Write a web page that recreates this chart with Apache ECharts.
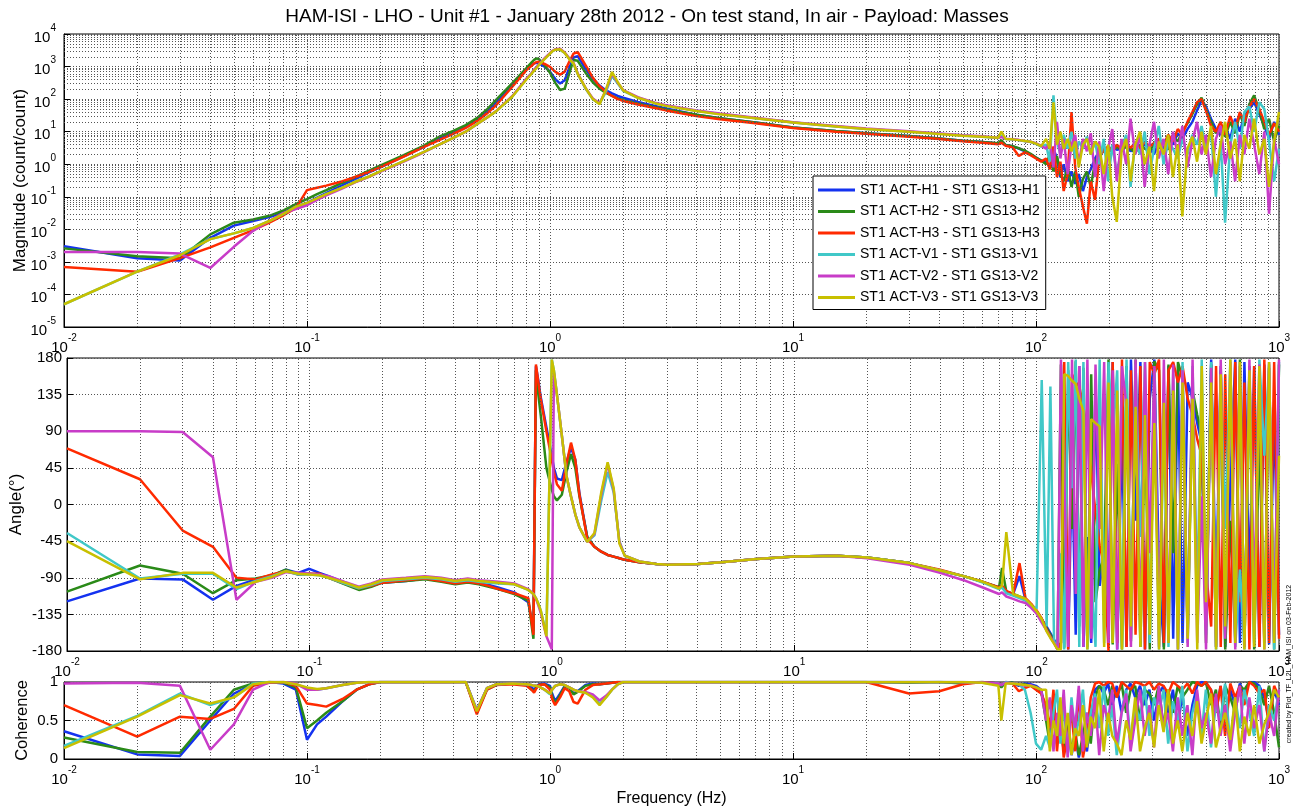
<!DOCTYPE html>
<html><head><meta charset="utf-8">
<script src="https://cdn.jsdelivr.net/npm/echarts@6/dist/echarts.min.js"></script>
<style>html,body{margin:0;padding:0;background:#fff}#c{width:1294px;height:812px}</style>
</head><body><div id="c"></div>
<script>
// ---------------- DATA ----------------
const freq = [
0.01,0.02,0.03,0.04,0.05,0.06,0.07,0.08,0.09,0.1,
0.11,0.12,0.14,0.16,0.18,0.2,0.25,0.3,0.35,0.4,
0.45,0.5,0.55,0.6,0.7,0.8,0.84,0.86,0.88,0.9,
0.95,1.0,1.02,1.05,1.1,1.15,1.2,1.25,1.3,1.4,
1.5,1.6,1.7,1.8,1.9,2.0,2.3,2.7,3,4,
5,7,10,15,20,30,40,50,60,70,
72,75,80,85,90,95,100,105,
110,114,118,122,126,130,135,140,145,150,
156,162,168,175,182,190,198,206,215,225,
235,245,256,268,280,293,306,320,335,350,
366,383,400,420,440,460,480,500,525,550,
575,600,630,660,690,720,755,790,830,870,
910,955,1000];

const seriesNames = ['ST1 ACT-H1 - ST1 GS13-H1','ST1 ACT-H2 - ST1 GS13-H2','ST1 ACT-H3 - ST1 GS13-H3',
                     'ST1 ACT-V1 - ST1 GS13-V1','ST1 ACT-V2 - ST1 GS13-V2','ST1 ACT-V3 - ST1 GS13-V3'];
const seriesColors = ['#1432f0','#2a8a18','#ff2a00','#40c8c8','#c83cc8','#c8c000'];

// Magnitude (count/count)
const magH1 = [
3.0e-3,1.3e-3,1.1e-3,5.5e-3,0.013,0.018,0.024,0.033,0.05,0.065,
0.095,0.13,0.23,0.37,0.56,0.8,1.75,3.3,6.2,9.5,
14.5,24,42,80,280,850,1100,1250,1300,1250,
1000,700,560,420,300,380,900,1900,2100,850,
420,260,185,150,125,110,82,62,52,33,
26,19,13.5,10.5,9,7.3,6.2,5.3,4.8,4.3,
5,3.9,3.6,3.0,2.5,2.0,1.6,1.3,
1.2,0.8,3,1.5,0.4,1.0,0.3,0.6,0.25,0.5,
0.15,0.4,0.7,1.5,2.5,3,2.2,3.5,2.8,3,
3.8,2.5,3.5,3,4,3.2,2,5,3,6,
4,9,6,12,20,45,90,60,25,12,
8,15,6,25,10,30,50,80,35,15,
6,20,8];
const magH2 = [
2.6e-3,1.5e-3,1.3e-3,7e-3,0.016,0.02,0.026,0.038,0.06,0.085,
0.12,0.16,0.27,0.42,0.63,0.9,1.9,3.6,7,10.5,
16,26,48,95,310,900,1350,1600,1780,1700,
1100,650,480,320,190,210,620,1600,1500,650,
330,210,155,125,105,92,72,56,48,33,
26,19,13.5,10.5,9,7.3,6.2,5.3,4.8,4.4,
5.5,3.9,3.6,3.1,2.6,2.1,1.6,1.3,
1.0,2,0.6,1.8,0.5,0.3,0.8,0.2,0.6,0.1,
0.35,0.6,0.2,1.2,2.0,2.5,3.2,2.4,3.5,2.6,
3.5,3,2.2,4,3,2.5,4,3.3,5,2.8,
7,5,10,18,35,70,110,50,20,9,
14,7,20,9,35,15,70,130,45,12,
25,5,15];
const magH3 = [
7e-4,5e-4,1.3e-3,2.8e-3,5.5e-3,9.5e-3,0.016,0.027,0.045,0.16,
0.19,0.22,0.3,0.42,0.58,0.8,1.7,3.3,5.5,8.5,
13,21,36,65,240,780,1050,1250,1380,1400,
1200,980,850,700,560,700,1400,2500,2800,1100,
460,250,165,125,100,88,68,53,45,30,
24,18,13,10,8.6,7,6,5.1,4.6,4.1,
4.6,3.7,3.3,1.8,2.3,1.9,1.5,1.2,
1.5,0.7,3.5,0.4,1.2,0.15,0.5,40,0.8,0.2,
0.05,0.015,0.3,0.08,1.5,2.8,3.5,2.5,4,3,
4.2,3.2,4.5,3,5,3.5,4.5,6,4,8,
5,12,8,20,40,80,100,45,15,10,
20,8,30,12,40,20,60,100,50,20,
8,18,10];
const magV1 = [
5e-5,5e-4,1.7e-3,5e-3,7.5e-3,0.011,0.018,0.03,0.048,0.063,
0.088,0.12,0.19,0.3,0.42,0.6,1.25,2.3,4,6.5,
10,17,27,42,120,420,620,780,950,1150,
1750,2500,2900,3300,3300,2600,1750,1200,600,210,
100,72,170,520,300,180,110,75,63,44,
35,26,19,14.5,12,10,8.6,7.6,7,6.4,
7.5,6,5.8,5.5,5.1,4.8,4.2,3.5,
4,1.2,130,5,2,8,3,10,1.5,5,
3,7,2,5,1,6,0.3,4,0.5,3,
8,0.2,5,2,10,0.5,3,15,1,5,
3,1.5,6,2,8,4,15,3,10,0.1,
5,0.016,4,20,3,40,60,10,80,50,
5,0.3,3];
const magV2 = [
2e-3,2e-3,1.8e-3,6.5e-4,2.9e-3,9e-3,0.018,0.032,0.042,0.055,
0.08,0.11,0.18,0.29,0.41,0.58,1.2,2.25,4,6.5,
10,17,27,43,125,430,630,800,960,1150,
1800,2600,3000,3400,3500,2700,1800,1300,620,220,
105,75,190,600,320,190,115,78,65,45,
36,27,19.5,15,12.5,10.3,8.8,7.8,7.2,6.5,
6.8,6.1,5.9,5.6,5.2,4.9,4.4,3.7,
3,5,0.8,20,1.5,6,0.5,4,8,1,
6,2.5,9,0.4,5,0.15,3,12,0.3,6,
1,25,2,8,0.2,4,20,1.5,6,0.5,
10,2,15,0.8,5,20,2,8,0.4,6,
15,1,5,0.3,8,2,25,4,0.5,10,
0.03,6,1];
const magV3 = [
5e-5,5e-4,1.6e-3,5e-3,7.5e-3,0.011,0.018,0.03,0.05,0.065,
0.09,0.12,0.19,0.3,0.42,0.6,1.25,2.3,4,6.5,
10,17,27,42,120,400,600,750,900,1100,
1700,2500,2900,3300,3400,2600,1700,1250,600,220,
100,69,200,680,330,185,110,75,62,43,
34,26,19,14.5,12,10,8.5,7.5,7,6.5,
10,6,5.8,5.5,5.2,4.9,4.3,3.6,
6,3,80,4,10,3,6,2.5,5,0.8,
4,6,2,5,3.5,0.5,4,0.1,0.017,2.5,
6,0.3,4,10,1,3.5,0.15,5,2,8,
0.4,4,0.025,3,7,1.2,10,2,15,0.5,
4,20,1.5,6,0.3,8,3,25,2,6,
0.2,5,40];

// Angle (deg)
const phH1 = [
-119,-91,-92,-117,-100,-92,-88,-80,-84,-79,
-84,-88,-96,-104,-100,-96,-94,-91,-94,-97,
-95,-97,-99,-102,-108,-120,-155,170,152,132,
95,60,45,32,30,52,70,55,14,-40,
-52,-58,-62,-64,-66,-68,-71,-73,-74,-73,
-71,-67,-64,-63,-65,-72,-81,-88,-95,-102,
-100,-107,-110,-88,-117,-123,-131,-141,
-150,-158,-166,-174,-170,120,-178,60,-160,170,
-175,-40,-170,150,-100,-60,-120,175,-178,90,
-175,178,-20,175,-178,130,178,-90,-175,170,
-165,165,-170,150,130,100,75,-150,178,-120,
170,-175,30,178,-170,175,-100,170,-175,172,
-172,120,-160];
const phH2 = [
-107,-75,-85,-109,-93,-91,-87,-80,-86,-85,
-86,-90,-98,-105,-101,-96,-94,-92,-95,-98,
-96,-98,-101,-104,-110,-118,-165,165,135,110,
45,18,10,5,12,40,62,45,10,-40,
-52,-58,-62,-64,-66,-68,-71,-73,-74,-73,
-71,-67,-64,-63,-65,-72,-81,-88,-95,-102,
-78,-107,-110,-113,-116,-123,-131,-141,
-152,-160,-168,-176,172,-176,165,-30,176,-150,
168,-175,160,-120,-80,-65,178,-172,50,-178,
170,-168,178,-175,100,-178,176,165,-178,172,
-60,175,155,-160,140,110,85,-170,172,-175,
165,-178,-20,-165,178,-175,170,-178,90,-170,
168,-178,172];
const phH3 = [
69,31,-32,-52,-90,-92,-86,-82,-86,-85,
-85,-90,-97,-103,-100,-96,-93,-91,-94,-97,
-95,-97,-100,-104,-109,-115,-160,172,150,130,
90,55,40,25,17,50,76,55,12,-42,
-52,-58,-62,-64,-66,-68,-71,-73,-74,-73,
-71,-67,-64,-63,-65,-72,-80,-88,-95,-102,
-100,-106,-110,-72,-115,-122,-130,-140,
-154,-162,-170,-178,-170,175,-178,160,150,145,
120,90,40,-10,-50,-75,-180,175,-170,178,
-175,165,-160,170,-178,175,160,178,-170,165,
175,150,170,130,110,80,60,-80,-150,170,
-175,160,-170,175,-120,150,-178,170,-175,178,
-170,175,-165];
const phV1 = [
-35,-91,-85,-85,-104,-94,-88,-82,-86,-86,
-87,-90,-97,-103,-99,-94,-92,-90,-92,-95,
-93,-95,-96,-97,-98,-105,-110,-115,-122,-130,
-160,178,165,135,85,35,10,-12,-28,-46,
-38,5,40,15,-45,-63,-70,-73,-74,-73,
-71,-67,-64,-63,-65,-72,-81,-88,-96,-104,
-102,-109,-112,-115,-118,-125,-128,153,
-150,145,-168,-175,-60,-178,175,20,178,-175,
175,-178,-90,-175,178,-170,175,80,165,-175,
178,-165,172,-40,175,-170,168,-178,110,-175,
160,-178,175,-170,170,-120,178,-160,175,-178,
150,-30,178,-175,-80,-178,165,-170,178,60,
172,-178,175];
const phV2 = [
90,90,89,58,-117,-95,-90,-83,-84,-85,
-86,-88,-95,-101,-97,-92,-90,-88,-90,-93,
-91,-93,-94,-95,-97,-104,-110,-116,-124,-133,
-162,-178,162,135,85,35,10,-12,-28,-46,
-36,12,50,18,-46,-63,-70,-73,-74,-73,
-71,-67,-64,-63,-66,-74,-84,-93,-102,-110,
-108,-113,-116,-119,-121,-127,-134,-145,
-155,-163,-170,-178,178,40,-175,178,-110,170,
-175,178,-165,172,-30,175,-170,165,-178,170,
120,-175,178,-168,175,-60,170,-175,178,-170,
172,-178,165,-175,178,-170,10,-178,168,-175,
178,-165,175,-178,170,-175,178,-120,172,-178,
175,-168,178];
const phV3 = [
-45,-92,-84,-84,-102,-95,-89,-82,-85,-86,
-87,-90,-96,-102,-98,-93,-91,-89,-91,-94,
-92,-94,-95,-96,-98,-105,-110,-115,-122,-130,
-162,178,165,135,85,35,10,-12,-28,-46,
-35,15,52,20,-48,-63,-70,-73,-74,-73,
-71,-67,-64,-63,-65,-72,-81,-88,-95,-103,
-100,-34,-110,-113,-116,-123,-131,-141,
-156,-164,-171,-178,-178,160,158,152,148,130,
115,-178,105,100,96,-175,150,-170,140,-178,
130,-150,120,-175,110,-160,100,-178,125,-170,
140,-178,150,-165,130,-178,170,-120,150,-178,
160,-150,178,-170,175,-178,165,-175,170,-178,
175,-170,60];

// Coherence
const cohH1 = [
.36,.06,.04,.5,.85,.97,1,.98,.9,.25,
.45,.55,.75,.9,.97,1,1,1,1,1,
1,.62,.92,.97,.98,.97,.93,.9,.94,.97,
.98,.95,.85,.75,.85,.95,.93,.85,.88,.96,
.98,.97,.98,.99,1,1,1,1,1,1,
1,1,1,1,1,1,1,.99,1,.98,
.97,1,.99,.95,.98,.97,.95,.9,
.6,.3,.8,.2,.5,.1,.4,.05,.3,.02,
.25,.1,.5,.9,.95,.85,.98,.7,.95,.6,
.9,.98,.8,.95,.7,.9,.5,.85,.95,.6,
.9,.4,.85,.3,.7,.95,1,.98,.9,.6,
.95,.5,.9,.7,.98,.85,1,1,.95,.8,
.5,.9,.7];
const cohH2 = [
.28,.09,.08,.55,.9,.98,1,.99,.93,.4,
.5,.6,.75,.9,.97,1,1,1,1,1,
1,.6,.9,.96,.98,.96,.9,.88,.93,.96,
.97,.93,.82,.72,.83,.94,.92,.84,.87,.95,
.97,.97,.98,.99,1,1,1,1,1,1,
1,1,1,1,1,.99,1,.98,1,.97,
.93,1,.99,.96,.97,.95,.94,.88,
.5,.2,.7,.3,.4,.15,.5,.1,.35,.05,
.3,.6,.2,.8,.95,.9,.7,.95,.8,.98,
.6,.9,.95,.5,.9,.85,.7,.95,.4,.9,
.6,.95,.8,.9,1,.98,.95,1,.7,.9,
.4,.95,.8,.6,.95,.9,1,.98,.9,.7,
.95,.6,.15];
const cohH3 = [
.7,.29,.55,.52,.65,.95,.99,1,.95,.72,
.7,.68,.78,.9,.97,1,1,1,1,1,
1,.58,.9,.96,.97,.95,.9,.86,.92,.96,
.97,.9,.78,.7,.8,.92,.88,.74,.72,.9,
.96,.97,.98,.99,1,1,1,1,1,1,
1,1,1,1,1,.85,.88,.97,1,.98,
.97,1,.98,.88,.92,.95,.9,.85,
.7,.4,.9,.1,.6,.02,.3,.6,.1,.9,
.02,.3,.8,.98,1,.95,1,.98,.8,1,
.95,.9,1,.98,.95,1,.9,.98,.95,.85,
1,.95,.9,.98,.85,1,.95,1,.9,.6,
.95,.3,.98,.8,.95,.7,1,.95,.85,.9,
.4,.95,.8];
const cohV1 = [
.17,.56,.85,.7,.8,.98,1,1,.97,.92,
.9,.92,.96,.99,1,1,1,1,1,1,
1,.64,.92,.97,.98,.97,.96,.95,.95,.94,
.9,.84,.9,.95,.97,.96,.93,.9,.88,.86,
.82,.72,.8,.9,.97,1,1,1,1,1,
1,1,1,1,1,1,1,1,.99,.98,
.96,1,.98,.97,.9,.6,.2,.12,
.3,.15,.6,.9,.2,.7,.1,.8,.3,.5,
.9,.2,.6,.85,.4,.95,.3,.7,.05,.6,
.9,.2,.7,.5,.95,.3,.8,.6,.9,.2,
.75,.5,.95,.1,.6,.85,.3,.9,.15,.7,
.5,.98,.2,.8,.4,.9,.6,.3,.95,.1,
.7,.5,.9];
const cohV2 = [
.98,.99,.95,.12,.45,.9,1,1,.98,.9,
.9,.92,.96,.99,1,1,1,1,1,1,
1,.63,.92,.97,.98,.97,.96,.95,.95,.94,
.9,.86,.9,.95,.97,.96,.93,.9,.88,.87,
.84,.76,.82,.9,.97,1,1,1,1,1,
1,1,1,1,1,1,1,1,.99,.98,
.96,.99,.98,.97,.95,.96,.93,.9,
.5,.8,.1,.6,.3,.9,.02,.7,.4,.95,
.1,.6,.3,.8,.05,.7,.5,.9,.2,.6,
.85,.1,.5,.9,.3,.7,.15,.95,.4,.6,
.1,.8,.3,.7,.05,.9,.4,.6,.2,.85,
.3,.7,.1,.6,.95,.2,.8,.4,.7,.1,
.6,.3,.9];
const cohV3 = [
.14,.55,.83,.72,.8,.97,1,1,.97,.93,
.91,.92,.96,.99,1,1,1,1,1,1,
1,.62,.92,.97,.98,.97,.96,.95,.95,.94,
.9,.85,.9,.95,.97,.96,.93,.9,.88,.86,
.8,.7,.8,.9,.97,1,1,1,1,1,
1,1,1,1,1,1,1,1,.99,.95,
.5,.98,.98,.97,.96,.95,.93,.9,
.9,.1,.5,.3,.8,.2,.6,.05,.4,.3,
.7,.15,.55,.4,.9,.1,.6,.3,.2,.05,
.5,.25,.8,.1,.4,.6,.15,.7,.35,.9,
.2,.5,.1,.6,.3,.75,.2,.5,.85,.15,
.4,.6,.25,.8,.1,.55,.3,.7,.2,.45,
.6,.9,.8];

const magData = [magH1, magH2, magH3, magV1, magV2, magV3];
const phData  = [phH1, phH2, phH3, phV1, phV2, phV3];
const cohData = [cohH1, cohH2, cohH3, cohV1, cohV2, cohV3];

const titleText = 'HAM-ISI - LHO - Unit #1 - January 28th 2012 - On test stand, In air - Payload: Masses';
const creditText = 'created by Plot_TF_L2L_HAM_ISI on 03-Feb-2012';

// ---------------- CHART ----------------
const FONT = '"Liberation Sans", Arial, Helvetica, sans-serif';
const chart = echarts.init(document.getElementById('c'), null, {renderer: 'canvas'});
const pairs = arr => freq.map((f, i) => [f, arr[i]]);

const gridDefs = [
  {left: 64, top: 34, width: 1215, height: 293},
  {left: 64, top: 358, width: 1215, height: 293},
  {left: 64, top: 682, width: 1215, height: 77}
];
const grids = gridDefs.map(g => Object.assign({show: true, borderColor: '#000', borderWidth: 1,
  backgroundColor: 'transparent', containLabel: false}, g));

const supFmt = v => '{b|10}{s|' + Math.round(Math.log10(v)) + '}';
const supRich = {
  b: {fontSize: 15, fontFamily: FONT, color: '#000', lineHeight: 22, verticalAlign: 'bottom'},
  s: {fontSize: 10, fontFamily: FONT, color: '#000', lineHeight: 12, verticalAlign: 'top'}
};
const dotted = {color: '#555', type: [1, 2], width: 1};

function xAxisFor(i) {
  return {
    type: 'log', logBase: 10, min: 0.01, max: 1000, gridIndex: i, splitNumber: 5,
    axisLine: {show: true, onZero: false, lineStyle: {color: '#000', width: 1}},
    axisTick: {show: true, inside: true, length: 6, lineStyle: {color: '#000'}},
    axisLabel: {formatter: supFmt, rich: supRich, margin: 6},
    splitLine: {show: true, lineStyle: dotted},
    name: i === 2 ? 'Frequency (Hz)' : '',
    nameLocation: 'middle', nameGap: 32, nameMoveOverlap: false,
    nameTextStyle: {fontSize: 16, fontFamily: FONT, color: '#000'}
  };
}
const nameStyle = sz => ({fontSize: sz, fontFamily: FONT, color: '#000'});
const yAxes = [
  {type: 'log', logBase: 10, min: 1e-5, max: 1e4, splitNumber: 9, gridIndex: 0,
   axisLine: {show: true, lineStyle: {color: '#000'}},
   axisTick: {show: true, inside: true, length: 6, lineStyle: {color: '#000'}},
   axisLabel: {formatter: supFmt, rich: supRich, margin: 8},
   splitLine: {show: true, lineStyle: dotted},
   name: 'Magnitude (count/count)', nameLocation: 'middle', nameGap: 35, nameMoveOverlap: false,
   nameTextStyle: nameStyle(17)},
  {type: 'value', min: -180, max: 180, interval: 45, gridIndex: 1,
   axisLine: {show: true, onZero: false, lineStyle: {color: '#000'}},
   axisTick: {show: true, inside: true, length: 6, lineStyle: {color: '#000'}},
   axisLabel: {fontSize: 15, fontFamily: FONT, color: '#000', margin: 5},
   splitLine: {show: true, lineStyle: dotted},
   name: 'Angle(°)', nameLocation: 'middle', nameGap: 42, nameMoveOverlap: false,
   nameTextStyle: nameStyle(17)},
  {type: 'value', min: 0, max: 1, interval: 0.5, gridIndex: 2,
   axisLine: {show: true, onZero: false, lineStyle: {color: '#000'}},
   axisTick: {show: true, inside: true, length: 6, lineStyle: {color: '#000'}},
   axisLabel: {fontSize: 15, fontFamily: FONT, color: '#000', margin: 6},
   splitLine: {show: true, lineStyle: dotted},
   name: 'Coherence', nameLocation: 'middle', nameGap: 33, nameMoveOverlap: false,
   nameTextStyle: nameStyle(16.5)}
];

// minor grid positions (2..9 per decade)
const minorVals = (lo, hi) => { const out = []; for (let k = lo; k < hi; k++) for (let m = 2; m <= 9; m++) out.push(+(m * Math.pow(10, k)).toPrecision(6)); return out; };
const xMinor = minorVals(-2, 3);
const yMinor = minorVals(-5, 4);
const mlBase = {silent: true, symbol: ['none', 'none'], label: {show: false}, lineStyle: dotted, animation: false, emphasis: {disabled: true}};

const series = [];
for (let g = 0; g < 3; g++) {
  const d = xMinor.map(v => ({xAxis: v}));
  if (g === 0) yMinor.forEach(v => d.push({yAxis: v}));
  series.push({type: 'line', xAxisIndex: g, yAxisIndex: g, data: [], z: 1, silent: true,
    markLine: Object.assign({}, mlBase, {data: d})});
}
const sets = [magData, phData, cohData];
for (let g = 0; g < 3; g++) {
  for (let i = 0; i < 6; i++) {
    series.push({
      type: 'line', name: seriesNames[i], xAxisIndex: g, yAxisIndex: g,
      data: pairs(sets[g][i]), showSymbol: false, symbol: 'none', z: 2 + i,
      color: seriesColors[i], lineStyle: {width: 2.5, color: seriesColors[i]},
      emphasis: {disabled: true}, silent: true, clip: true
    });
  }
}

chart.setOption({
  animation: false,
  backgroundColor: '#fff',
  title: {text: titleText, left: 'center', top: 2,
    textStyle: {fontSize: 19, fontWeight: 'normal', fontFamily: FONT, color: '#000'}},
  legend: {data: seriesNames, orient: 'vertical', left: 813, top: 176, z: 20,
    backgroundColor: '#fff', borderColor: '#000', borderWidth: 1,
    padding: [6, 6, 4, 5], itemGap: 5.5, itemWidth: 37, itemHeight: 3, icon: 'rect',
    selectedMode: false,
    textStyle: {fontSize: 14, fontFamily: FONT, color: '#000', lineHeight: 16}},
  grid: grids,
  xAxis: [xAxisFor(0), xAxisFor(1), xAxisFor(2)],
  yAxis: yAxes,
  series: series,
  graphic: [{type: 'text', x: 1289, y: 664, rotation: Math.PI / 2, z: 30,
    style: {text: creditText, fontSize: 7, fontFamily: FONT, fill: '#000', align: 'center', verticalAlign: 'middle'}}]
});
</script></body></html>
